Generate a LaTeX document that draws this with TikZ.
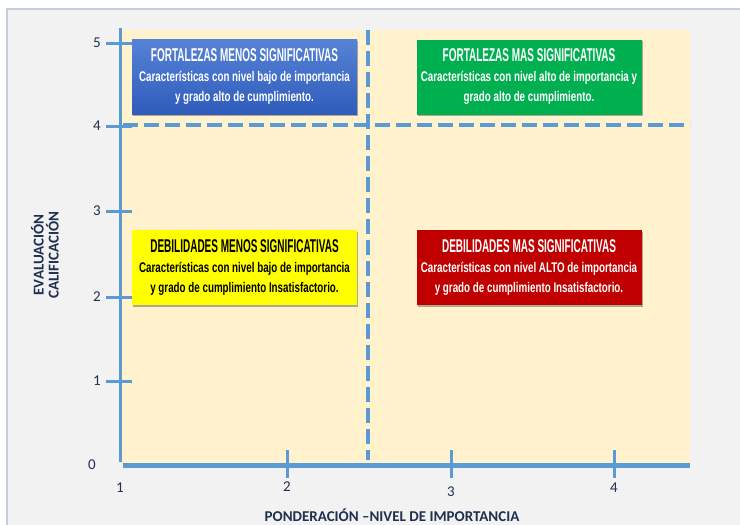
\documentclass[tikz,border=0pt]{standalone}
\usepackage{fontspec}
\setmainfont{Carlito}
\newfontfamily\headfont[FakeStretch=0.54]{Liberation Sans}
\newfontfamily\bodyfont[FakeStretch=0.7]{Liberation Sans}
\usetikzlibrary{shadows}
\definecolor{axisblue}{HTML}{5B9BD5}
\definecolor{cream}{HTML}{FFF2CC}
\definecolor{paper}{HTML}{F2F2F2}
\definecolor{framegrey}{HTML}{C5CEDB}
\definecolor{navy}{HTML}{1F2F4F}
\definecolor{topblue}{HTML}{5682D6}
\definecolor{botblue}{HTML}{2F5CBB}
\definecolor{okgreen}{HTML}{00B050}
\definecolor{badred}{HTML}{C00000}
\definecolor{lowyellow}{HTML}{FFFF00}
\newcommand\quadtext[3]{{\headfont\bfseries\fontsize{18.5}{20}\selectfont #1}\\
  {\bodyfont\bfseries #2}\\{\bodyfont\bfseries #3}}
\tikzset{
  quad/.style={minimum width=225pt, minimum height=75pt, inner sep=0pt,
    align=center, font=\fontsize{14}{20}\selectfont,
    drop shadow={shadow xshift=1.2pt, shadow yshift=-1.5pt, opacity=0.45, fill=black!70}},
  axisline/.style={draw=axisblue, line width=3pt},
  tickmark/.style={draw=axisblue, line width=3pt},
  divider/.style={draw=axisblue, line width=4pt, dash pattern=on 15pt off 6pt},
  ticklabel/.style={text=navy, inner sep=0pt, font=\fontsize{15}{15}\selectfont},
  axistitle/.style={text=navy, inner sep=0pt, align=center, font=\bfseries\fontsize{15}{15}\selectfont}
}
\begin{document}
\begin{tikzpicture}[x=1pt, y=-1pt]
  \useasboundingbox (0,0) rectangle (740,525);
  % sheet and plotting area
  \path[fill=paper, draw=framegrey, line width=1.5pt] (7,9) rectangle (760,545);
  \path[fill=cream] (120,30) rectangle (690,465);
  % quadrant dividers
  \coordinate (vtop) at (368,30);
  \coordinate (vbot) at (368,460);
  \coordinate (hleft) at (123,125);
  \coordinate (hright) at (690,125);
  \draw[divider] (vtop) -- (vbot);
  \draw[divider] (hleft) -- (hright);
  % axes
  \coordinate (yend) at (120,28);
  \coordinate (origin) at (120,462);
  \coordinate (xstart) at (123,465);
  \coordinate (xend) at (690,465);
  \draw[axisline] (origin) -- (yend);
  \draw[axisline, line width=5pt] (xstart) -- (xend);
  \def \Yticks{
    1/381,
    2/297,
    3/211,
    4/126,
    5/43}
  \def \Xticks{
    2/287/487,
    3/451/492,
    4/614/488}
  \foreach \val / \py in \Yticks{
    \draw[tickmark] (106,\py) -- (132,\py);
    \node[ticklabel, anchor=east] (y\val) at (101,\py) {\val};
  }
  \foreach \val / \px / \ly in \Xticks{
    \draw[tickmark] (\px,450) -- (\px,478);
    \node[ticklabel] (x\val) at (\px,\ly) {\val};
  }
  \node[ticklabel] (y0) at (92,465) {0};
  \node[ticklabel] (x1) at (120,488) {1};
  % axis titles
  \node[axistitle] (xtitle) at (392,515) {PONDERACIÓN –NIVEL DE IMPORTANCIA};
  \node[axistitle, rotate=90] (ytitle) at (45,255) {EVALUACIÓN\\CALIFICACIÓN};
  % quadrants
  \node[quad, top color=topblue, bottom color=botblue, text=white] (fmenos) at (244.5,77)
    {\quadtext{FORTALEZAS MENOS SIGNIFICATIVAS}{Características con nivel bajo de importancia}{y grado alto de cumplimiento.}};
  \node[quad, fill=okgreen, text=white] (fmas) at (529,77)
    {\quadtext{FORTALEZAS MAS SIGNIFICATIVAS}{Características con nivel alto de importancia y}{grado alto de cumplimiento.}};
  \node[quad, fill=lowyellow, text=black] (dmenos) at (244.5,267.5)
    {\quadtext{DEBILIDADES MENOS SIGNIFICATIVAS}{Características con nivel bajo de importancia}{y grado de cumplimiento Insatisfactorio.}};
  \node[quad, fill=badred, text=white] (dmas) at (529,267.5)
    {\quadtext{DEBILIDADES MAS SIGNIFICATIVAS}{Características con nivel ALTO de importancia}{y grado de cumplimiento Insatisfactorio.}};
\end{tikzpicture}
\end{document}
